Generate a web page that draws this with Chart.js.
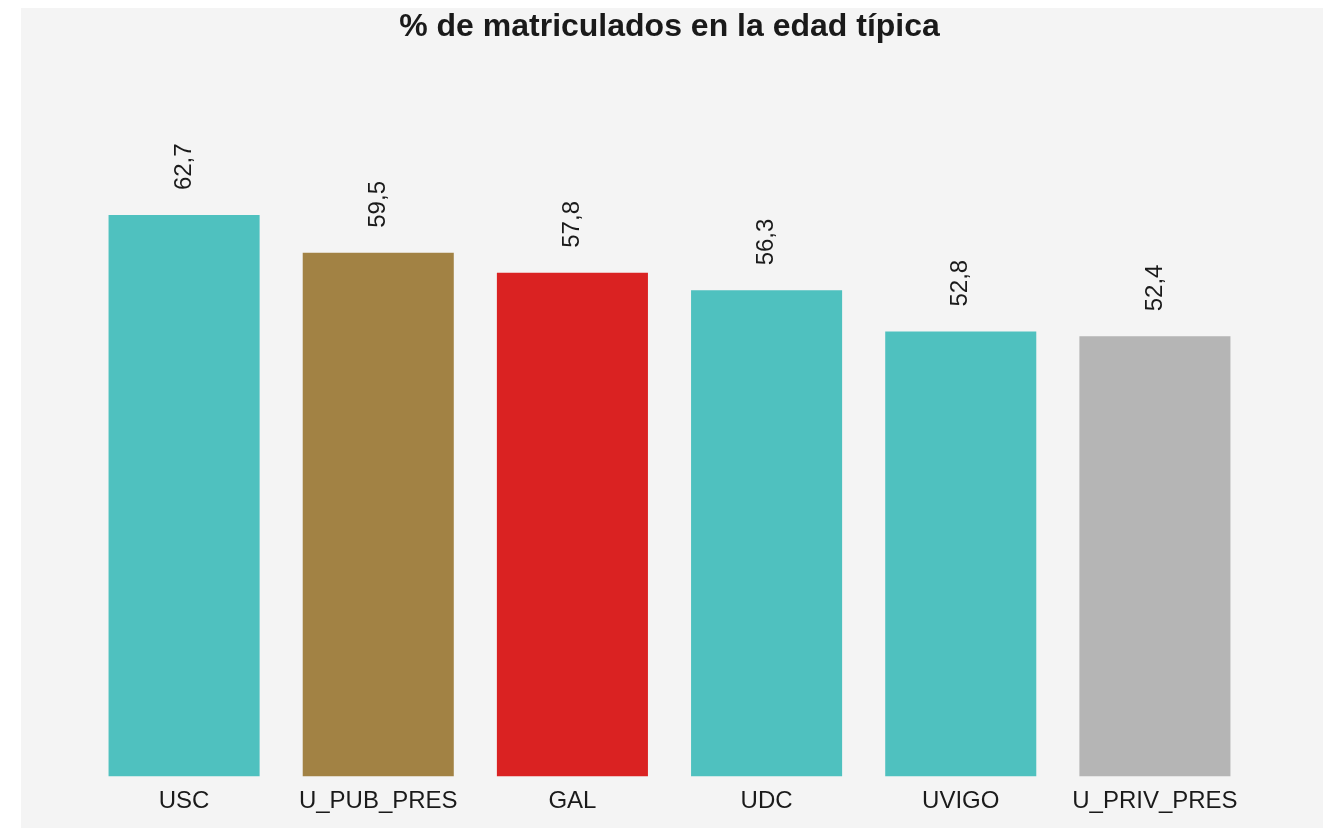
<!DOCTYPE html>
<html>
<head>
<meta charset="utf-8">
<title>% de matriculados en la edad típica</title>
<script src="https://cdn.jsdelivr.net/npm/chart.js@4"></script>
<style>
  html, body { margin: 0; padding: 0; background: #ffffff; }
  #wrap { width: 1326px; height: 828px; position: relative; }
</style>
</head>
<body>
<div id="wrap"><canvas id="chart"></canvas></div>
<script>
// Datos
const categories = ['USC', 'U_PUB_PRES', 'GAL', 'UDC', 'UVIGO', 'U_PRIV_PRES'];
const values = [62.7, 59.5, 57.8, 56.3, 52.8, 52.4];
const barColors = ['#4fc1bf', '#a28244', '#da2222', '#4fc1bf', '#4fc1bf', '#b5b5b5'];

const FONT = '"Liberation Sans", Arial, Helvetica, sans-serif';

/** Fondo gris del panel */
const panelBackground = {
  id: 'panelBackground',
  beforeDraw(chart) {
    const { ctx, width, height } = chart;
    ctx.save();
    ctx.fillStyle = '#ffffff';
    ctx.fillRect(0, 0, width, height);
    ctx.fillStyle = '#f4f4f4';
    ctx.fillRect(21, 8, 1302, height - 8);
    ctx.restore();
  },
};

/** Etiquetas de valor giradas sobre cada barra */
const valueLabels = {
  id: 'valueLabels',
  afterDatasetsDraw(chart) {
    const { ctx } = chart;
    const meta = chart.getDatasetMeta(0);
    ctx.save();
    ctx.fillStyle = '#1a1a1a';
    ctx.font = '24px ' + FONT;
    ctx.textAlign = 'left';
    ctx.textBaseline = 'middle';
    meta.data.forEach((bar, i) => {
      const label = values[i].toFixed(1).replace('.', ',');
      ctx.save();
      ctx.translate(bar.x, bar.y - 25);
      ctx.rotate(-Math.PI / 2);
      ctx.fillText(label, 0, 0);
      ctx.restore();
    });
    ctx.restore();
  },
};

new Chart(document.getElementById('chart'), {
  type: 'bar',
  data: {
    labels: categories,
    datasets: [{
      data: values,
      backgroundColor: barColors,
      borderWidth: 0,
      barPercentage: 0.778,
      categoryPercentage: 1,
    }],
  },
  options: {
    responsive: true,
    maintainAspectRatio: false,
    animation: false,
    layout: { padding: { left: 87, right: 74, top: 8, bottom: 9 } },
    plugins: {
      legend: { display: false },
      tooltip: { enabled: false },
      title: {
        display: true,
        text: '% de matriculados en la edad típica',
        color: '#1a1a1a',
        font: { family: FONT, size: 32, weight: 'bold' },
        padding: { top: 0, bottom: 24 },
      },
    },
    scales: {
      x: {
        grid: { display: false },
        border: { display: false },
        ticks: {
          color: '#1a1a1a',
          font: { family: FONT, size: 24 },
          padding: 3,
          maxRotation: 0,
          autoSkip: false,
        },
      },
      y: {
        display: false,
        min: 15,
        max: 75,
      },
    },
  },
  plugins: [panelBackground, valueLabels],
});
</script>
</body>
</html>
